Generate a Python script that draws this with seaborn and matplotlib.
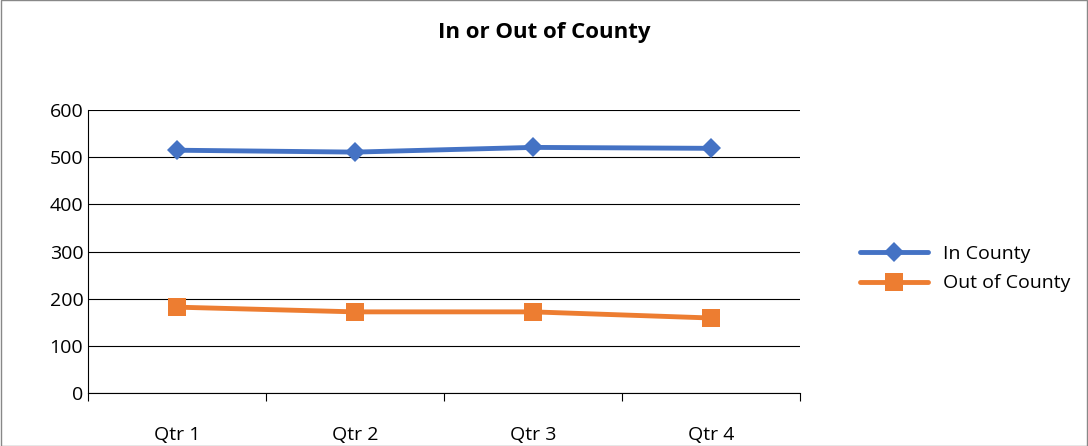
import matplotlib
matplotlib.use("Agg")
import matplotlib.pyplot as plt
import seaborn as sns
import pandas as pd
from matplotlib.patches import Rectangle

quarters = ["Qtr 1", "Qtr 2", "Qtr 3", "Qtr 4"]
in_county = [515, 511, 521, 519]
out_county = [182, 172, 172, 159]

sns.set_style("white")
plt.rcParams["font.family"] = ["Open Sans", "DejaVu Sans"]
plt.rcParams["text.color"] = "black"
plt.rcParams["xtick.color"] = "black"
plt.rcParams["ytick.color"] = "black"

df = pd.DataFrame({"pos": range(len(quarters)), "In County": in_county, "Out of County": out_county})

fig = plt.figure(figsize=(10.88, 4.46), dpi=100)
ax = fig.add_axes([0.081, 0.119, 0.654, 0.634])
sns.lineplot(data=df, x="pos", y="In County", ax=ax, color="#4472C4", lw=3.5,
             marker="D", markersize=10, markeredgewidth=0, label="In County")
sns.lineplot(data=df, x="pos", y="Out of County", ax=ax, color="#ED7D31", lw=3.5,
             marker="s", markersize=13, markeredgewidth=0, label="Out of County")

ax.set_xlim(-0.5, 3.5)
ax.set_ylim(0, 600)
ax.set_yticks(range(0, 601, 100))
ax.yaxis.grid(True, color="black", lw=0.8)
ax.set_xticks(range(4))
ax.set_xticklabels(quarters, fontsize=14)
ax.tick_params(axis="x", which="major", length=0, pad=24)
ax.set_xticks([-0.5, 0.5, 1.5, 2.5, 3.5], minor=True)
ax.tick_params(axis="x", which="minor", bottom=True, length=6, width=0.8,
               color="black", direction="out")
ax.tick_params(axis="y", labelsize=14, length=0)
ax.set_xlabel("")
ax.set_ylabel("")
for s in ["top", "right"]:
    ax.spines[s].set_visible(False)
ax.spines["left"].set_color("black")
ax.spines["bottom"].set_color("black")

fig.suptitle("In or Out of County", fontsize=16, fontweight="bold", y=0.95)
ax.legend(loc="center left", bbox_to_anchor=(1.06, 0.44), frameon=False, fontsize=14,
          handlelength=3.5, labelspacing=0.6)
fig.patches.append(Rectangle((0.001, 0.001), 0.998, 0.998, transform=fig.transFigure,
                             fill=False, edgecolor="#888888", lw=1))
fig.savefig("out.png", dpi=100)
